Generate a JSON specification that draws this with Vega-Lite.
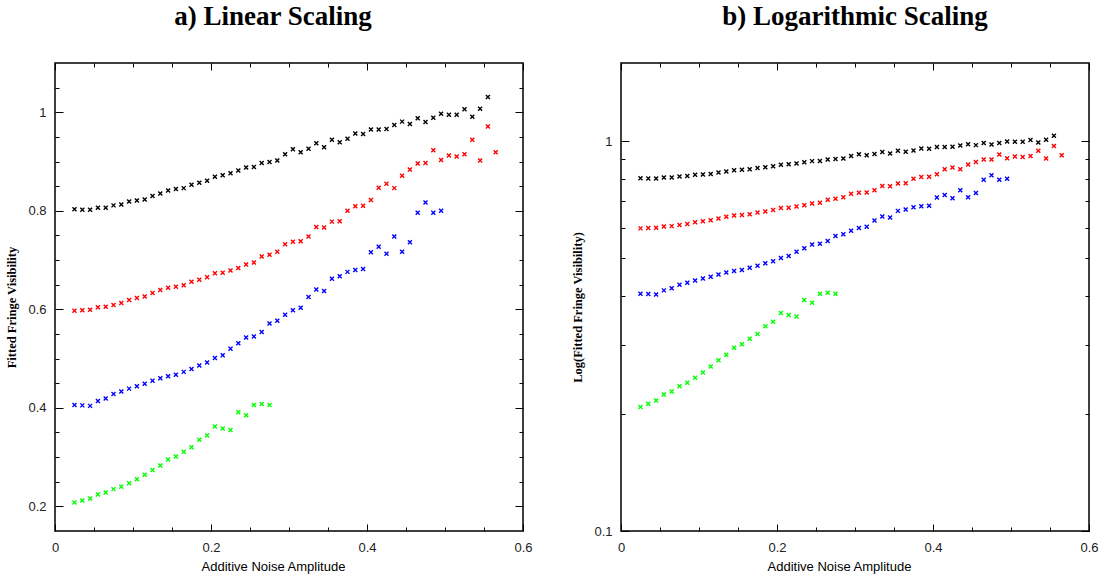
{
  "$schema": "https://vega.github.io/schema/vega-lite/v6.json",
  "autosize": {"type": "pad"},
  "padding": {"left": 5, "top": 1, "right": 0, "bottom": 0},
  "background": "white",
  "config": {
    "view": {"stroke": "black", "strokeWidth": 1.5},
    "axis": {
      "domain": false,
      "grid": false,
      "tickColor": "black",
      "tickWidth": 1,
      "labelFont": "Liberation Sans",
      "labelFontSize": 13,
      "labelColor": "#222222",
      "labelFlush": false,
      "labelOverlap": false,
      "titleColor": "black"
    },
    "concat": {"spacing": 98},
    "title": {"font": "Liberation Serif", "fontSize": 27, "fontWeight": "bold", "color": "black", "anchor": "middle", "baseline": "alphabetic", "offset": 32}
  },
  "bounds": "flush",
  "data": {
    "values": [
      {"series": "set1", "amplitude": 0.025, "visibility": 0.803},
      {"series": "set1", "amplitude": 0.035, "visibility": 0.802},
      {"series": "set1", "amplitude": 0.045, "visibility": 0.802},
      {"series": "set1", "amplitude": 0.055, "visibility": 0.806},
      {"series": "set1", "amplitude": 0.065, "visibility": 0.806},
      {"series": "set1", "amplitude": 0.075, "visibility": 0.811},
      {"series": "set1", "amplitude": 0.085, "visibility": 0.813},
      {"series": "set1", "amplitude": 0.095, "visibility": 0.819},
      {"series": "set1", "amplitude": 0.105, "visibility": 0.821},
      {"series": "set1", "amplitude": 0.115, "visibility": 0.823},
      {"series": "set1", "amplitude": 0.125, "visibility": 0.830},
      {"series": "set1", "amplitude": 0.135, "visibility": 0.835},
      {"series": "set1", "amplitude": 0.145, "visibility": 0.841},
      {"series": "set1", "amplitude": 0.155, "visibility": 0.844},
      {"series": "set1", "amplitude": 0.165, "visibility": 0.846},
      {"series": "set1", "amplitude": 0.175, "visibility": 0.853},
      {"series": "set1", "amplitude": 0.185, "visibility": 0.857},
      {"series": "set1", "amplitude": 0.195, "visibility": 0.861},
      {"series": "set1", "amplitude": 0.205, "visibility": 0.869},
      {"series": "set1", "amplitude": 0.215, "visibility": 0.872},
      {"series": "set1", "amplitude": 0.225, "visibility": 0.876},
      {"series": "set1", "amplitude": 0.235, "visibility": 0.882},
      {"series": "set1", "amplitude": 0.245, "visibility": 0.888},
      {"series": "set1", "amplitude": 0.255, "visibility": 0.889},
      {"series": "set1", "amplitude": 0.265, "visibility": 0.897},
      {"series": "set1", "amplitude": 0.275, "visibility": 0.899},
      {"series": "set1", "amplitude": 0.285, "visibility": 0.902},
      {"series": "set1", "amplitude": 0.295, "visibility": 0.915},
      {"series": "set1", "amplitude": 0.305, "visibility": 0.925},
      {"series": "set1", "amplitude": 0.315, "visibility": 0.919},
      {"series": "set1", "amplitude": 0.325, "visibility": 0.926},
      {"series": "set1", "amplitude": 0.335, "visibility": 0.937},
      {"series": "set1", "amplitude": 0.345, "visibility": 0.929},
      {"series": "set1", "amplitude": 0.355, "visibility": 0.944},
      {"series": "set1", "amplitude": 0.365, "visibility": 0.939},
      {"series": "set1", "amplitude": 0.375, "visibility": 0.946},
      {"series": "set1", "amplitude": 0.385, "visibility": 0.957},
      {"series": "set1", "amplitude": 0.395, "visibility": 0.956},
      {"series": "set1", "amplitude": 0.405, "visibility": 0.965},
      {"series": "set1", "amplitude": 0.415, "visibility": 0.965},
      {"series": "set1", "amplitude": 0.425, "visibility": 0.966},
      {"series": "set1", "amplitude": 0.435, "visibility": 0.974},
      {"series": "set1", "amplitude": 0.445, "visibility": 0.981},
      {"series": "set1", "amplitude": 0.455, "visibility": 0.976},
      {"series": "set1", "amplitude": 0.465, "visibility": 0.988},
      {"series": "set1", "amplitude": 0.475, "visibility": 0.980},
      {"series": "set1", "amplitude": 0.485, "visibility": 0.989},
      {"series": "set1", "amplitude": 0.495, "visibility": 0.997},
      {"series": "set1", "amplitude": 0.505, "visibility": 0.995},
      {"series": "set1", "amplitude": 0.515, "visibility": 0.995},
      {"series": "set1", "amplitude": 0.525, "visibility": 1.006},
      {"series": "set1", "amplitude": 0.535, "visibility": 0.991},
      {"series": "set1", "amplitude": 0.545, "visibility": 1.007},
      {"series": "set1", "amplitude": 0.555, "visibility": 1.031},

      {"series": "set2", "amplitude": 0.025, "visibility": 0.597},
      {"series": "set2", "amplitude": 0.035, "visibility": 0.598},
      {"series": "set2", "amplitude": 0.045, "visibility": 0.599},
      {"series": "set2", "amplitude": 0.055, "visibility": 0.604},
      {"series": "set2", "amplitude": 0.065, "visibility": 0.605},
      {"series": "set2", "amplitude": 0.075, "visibility": 0.609},
      {"series": "set2", "amplitude": 0.085, "visibility": 0.613},
      {"series": "set2", "amplitude": 0.095, "visibility": 0.619},
      {"series": "set2", "amplitude": 0.105, "visibility": 0.623},
      {"series": "set2", "amplitude": 0.115, "visibility": 0.626},
      {"series": "set2", "amplitude": 0.125, "visibility": 0.633},
      {"series": "set2", "amplitude": 0.135, "visibility": 0.639},
      {"series": "set2", "amplitude": 0.145, "visibility": 0.644},
      {"series": "set2", "amplitude": 0.155, "visibility": 0.646},
      {"series": "set2", "amplitude": 0.165, "visibility": 0.649},
      {"series": "set2", "amplitude": 0.175, "visibility": 0.656},
      {"series": "set2", "amplitude": 0.185, "visibility": 0.660},
      {"series": "set2", "amplitude": 0.195, "visibility": 0.665},
      {"series": "set2", "amplitude": 0.205, "visibility": 0.673},
      {"series": "set2", "amplitude": 0.215, "visibility": 0.674},
      {"series": "set2", "amplitude": 0.225, "visibility": 0.679},
      {"series": "set2", "amplitude": 0.235, "visibility": 0.684},
      {"series": "set2", "amplitude": 0.245, "visibility": 0.691},
      {"series": "set2", "amplitude": 0.255, "visibility": 0.695},
      {"series": "set2", "amplitude": 0.265, "visibility": 0.707},
      {"series": "set2", "amplitude": 0.275, "visibility": 0.711},
      {"series": "set2", "amplitude": 0.285, "visibility": 0.717},
      {"series": "set2", "amplitude": 0.295, "visibility": 0.732},
      {"series": "set2", "amplitude": 0.305, "visibility": 0.737},
      {"series": "set2", "amplitude": 0.315, "visibility": 0.738},
      {"series": "set2", "amplitude": 0.325, "visibility": 0.748},
      {"series": "set2", "amplitude": 0.335, "visibility": 0.767},
      {"series": "set2", "amplitude": 0.345, "visibility": 0.766},
      {"series": "set2", "amplitude": 0.355, "visibility": 0.778},
      {"series": "set2", "amplitude": 0.365, "visibility": 0.779},
      {"series": "set2", "amplitude": 0.375, "visibility": 0.800},
      {"series": "set2", "amplitude": 0.385, "visibility": 0.809},
      {"series": "set2", "amplitude": 0.395, "visibility": 0.810},
      {"series": "set2", "amplitude": 0.405, "visibility": 0.822},
      {"series": "set2", "amplitude": 0.415, "visibility": 0.847},
      {"series": "set2", "amplitude": 0.425, "visibility": 0.855},
      {"series": "set2", "amplitude": 0.435, "visibility": 0.846},
      {"series": "set2", "amplitude": 0.445, "visibility": 0.871},
      {"series": "set2", "amplitude": 0.455, "visibility": 0.884},
      {"series": "set2", "amplitude": 0.465, "visibility": 0.896},
      {"series": "set2", "amplitude": 0.475, "visibility": 0.897},
      {"series": "set2", "amplitude": 0.485, "visibility": 0.923},
      {"series": "set2", "amplitude": 0.495, "visibility": 0.903},
      {"series": "set2", "amplitude": 0.505, "visibility": 0.912},
      {"series": "set2", "amplitude": 0.515, "visibility": 0.910},
      {"series": "set2", "amplitude": 0.525, "visibility": 0.915},
      {"series": "set2", "amplitude": 0.535, "visibility": 0.944},
      {"series": "set2", "amplitude": 0.545, "visibility": 0.902},
      {"series": "set2", "amplitude": 0.555, "visibility": 0.971},
      {"series": "set2", "amplitude": 0.565, "visibility": 0.919},

      {"series": "set3", "amplitude": 0.025, "visibility": 0.406},
      {"series": "set3", "amplitude": 0.035, "visibility": 0.405},
      {"series": "set3", "amplitude": 0.045, "visibility": 0.404},
      {"series": "set3", "amplitude": 0.055, "visibility": 0.414},
      {"series": "set3", "amplitude": 0.065, "visibility": 0.419},
      {"series": "set3", "amplitude": 0.075, "visibility": 0.428},
      {"series": "set3", "amplitude": 0.085, "visibility": 0.433},
      {"series": "set3", "amplitude": 0.095, "visibility": 0.439},
      {"series": "set3", "amplitude": 0.105, "visibility": 0.444},
      {"series": "set3", "amplitude": 0.115, "visibility": 0.449},
      {"series": "set3", "amplitude": 0.125, "visibility": 0.455},
      {"series": "set3", "amplitude": 0.135, "visibility": 0.460},
      {"series": "set3", "amplitude": 0.145, "visibility": 0.464},
      {"series": "set3", "amplitude": 0.155, "visibility": 0.467},
      {"series": "set3", "amplitude": 0.165, "visibility": 0.473},
      {"series": "set3", "amplitude": 0.175, "visibility": 0.479},
      {"series": "set3", "amplitude": 0.185, "visibility": 0.486},
      {"series": "set3", "amplitude": 0.195, "visibility": 0.492},
      {"series": "set3", "amplitude": 0.205, "visibility": 0.501},
      {"series": "set3", "amplitude": 0.215, "visibility": 0.507},
      {"series": "set3", "amplitude": 0.225, "visibility": 0.520},
      {"series": "set3", "amplitude": 0.235, "visibility": 0.531},
      {"series": "set3", "amplitude": 0.245, "visibility": 0.543},
      {"series": "set3", "amplitude": 0.255, "visibility": 0.545},
      {"series": "set3", "amplitude": 0.265, "visibility": 0.554},
      {"series": "set3", "amplitude": 0.275, "visibility": 0.571},
      {"series": "set3", "amplitude": 0.285, "visibility": 0.577},
      {"series": "set3", "amplitude": 0.295, "visibility": 0.589},
      {"series": "set3", "amplitude": 0.305, "visibility": 0.598},
      {"series": "set3", "amplitude": 0.315, "visibility": 0.603},
      {"series": "set3", "amplitude": 0.325, "visibility": 0.625},
      {"series": "set3", "amplitude": 0.335, "visibility": 0.640},
      {"series": "set3", "amplitude": 0.345, "visibility": 0.637},
      {"series": "set3", "amplitude": 0.355, "visibility": 0.662},
      {"series": "set3", "amplitude": 0.365, "visibility": 0.667},
      {"series": "set3", "amplitude": 0.375, "visibility": 0.676},
      {"series": "set3", "amplitude": 0.385, "visibility": 0.680},
      {"series": "set3", "amplitude": 0.395, "visibility": 0.682},
      {"series": "set3", "amplitude": 0.405, "visibility": 0.716},
      {"series": "set3", "amplitude": 0.415, "visibility": 0.727},
      {"series": "set3", "amplitude": 0.425, "visibility": 0.713},
      {"series": "set3", "amplitude": 0.435, "visibility": 0.748},
      {"series": "set3", "amplitude": 0.445, "visibility": 0.717},
      {"series": "set3", "amplitude": 0.455, "visibility": 0.736},
      {"series": "set3", "amplitude": 0.465, "visibility": 0.796},
      {"series": "set3", "amplitude": 0.475, "visibility": 0.817},
      {"series": "set3", "amplitude": 0.485, "visibility": 0.796},
      {"series": "set3", "amplitude": 0.495, "visibility": 0.800},

      {"series": "set4", "amplitude": 0.025, "visibility": 0.208},
      {"series": "set4", "amplitude": 0.035, "visibility": 0.212},
      {"series": "set4", "amplitude": 0.045, "visibility": 0.216},
      {"series": "set4", "amplitude": 0.055, "visibility": 0.224},
      {"series": "set4", "amplitude": 0.065, "visibility": 0.228},
      {"series": "set4", "amplitude": 0.075, "visibility": 0.235},
      {"series": "set4", "amplitude": 0.085, "visibility": 0.240},
      {"series": "set4", "amplitude": 0.095, "visibility": 0.247},
      {"series": "set4", "amplitude": 0.105, "visibility": 0.255},
      {"series": "set4", "amplitude": 0.115, "visibility": 0.264},
      {"series": "set4", "amplitude": 0.125, "visibility": 0.274},
      {"series": "set4", "amplitude": 0.135, "visibility": 0.283},
      {"series": "set4", "amplitude": 0.145, "visibility": 0.295},
      {"series": "set4", "amplitude": 0.155, "visibility": 0.301},
      {"series": "set4", "amplitude": 0.165, "visibility": 0.311},
      {"series": "set4", "amplitude": 0.175, "visibility": 0.320},
      {"series": "set4", "amplitude": 0.185, "visibility": 0.335},
      {"series": "set4", "amplitude": 0.195, "visibility": 0.344},
      {"series": "set4", "amplitude": 0.205, "visibility": 0.362},
      {"series": "set4", "amplitude": 0.215, "visibility": 0.358},
      {"series": "set4", "amplitude": 0.225, "visibility": 0.355},
      {"series": "set4", "amplitude": 0.235, "visibility": 0.391},
      {"series": "set4", "amplitude": 0.245, "visibility": 0.385},
      {"series": "set4", "amplitude": 0.255, "visibility": 0.406},
      {"series": "set4", "amplitude": 0.265, "visibility": 0.408},
      {"series": "set4", "amplitude": 0.275, "visibility": 0.406}
    ]
  },
  "hconcat": [
    {
      "width": 468,
      "height": 468,
      "title": {"text": "a) Linear Scaling", "dx": -16},
      "layer": [
        {
          "mark": {"type": "point", "shape": "M-1,-1L1,1M-1,1L1,-1", "filled": false, "size": 16, "strokeWidth": 1.4, "opacity": 1},
          "encoding": {
            "x": {
              "field": "amplitude", "type": "quantitative",
              "scale": {"domain": [0, 0.6], "nice": false, "zero": false},
              "axis": {
                "orient": "bottom",
                "values": [0, 0.05, 0.1, 0.15, 0.2, 0.25, 0.3, 0.35, 0.4, 0.45, 0.5, 0.55, 0.6],
                "tickSize": {"condition": {"test": "abs(datum.value*5-round(datum.value*5))<1e-6", "value": -7}, "value": -4},
                "labelExpr": "abs(datum.value*5-round(datum.value*5))<1e-6 ? format(datum.value, '~g') : ''",
                "labelPadding": 17,
                "title": "Additive Noise Amplitude",
                "titleFont": "Liberation Sans", "titleFontSize": 13, "titleFontWeight": "normal", "titlePadding": 3,
                "titleX": 218
              }
            },
            "y": {
              "field": "visibility", "type": "quantitative",
              "scale": {"domain": [0.15, 1.1], "nice": false, "zero": false},
              "axis": {
                "orient": "left",
                "values": [0.2, 0.25, 0.3, 0.35, 0.4, 0.45, 0.5, 0.55, 0.6, 0.65, 0.7, 0.75, 0.8, 0.85, 0.9, 0.95, 1, 1.05],
                "tickSize": {"condition": {"test": "abs(datum.value*5-round(datum.value*5))<1e-6", "value": -8}, "value": -4},
                "labelExpr": "abs(datum.value*5-round(datum.value*5))<1e-6 ? format(datum.value, '~g') : ''",
                "labelPadding": 17,
                "title": "Fitted Fringe Visibility",
                "titleFont": "Liberation Serif", "titleFontSize": 12.5, "titleFontWeight": "bold", "titlePadding": 9,
                "titleY": 244
              }
            },
            "color": {
              "field": "series", "type": "nominal",
              "scale": {"domain": ["set1", "set2", "set3", "set4"], "range": ["#000000", "#ff0000", "#0000ff", "#00ff00"]},
              "legend": null
            }
          }
        },
        {
          "mark": {"type": "point", "opacity": 0},
          "encoding": {
            "x": {
              "field": "amplitude", "type": "quantitative",
              "axis": {
                "orient": "top",
                "values": [0, 0.05, 0.1, 0.15, 0.2, 0.25, 0.3, 0.35, 0.4, 0.45, 0.5, 0.55, 0.6],
                "tickSize": {"condition": {"test": "abs(datum.value*5-round(datum.value*5))<1e-6", "value": -7}, "value": -4},
                "labels": false,
                "title": null
              }
            },
            "y": {
              "field": "visibility", "type": "quantitative",
              "axis": {
                "orient": "right",
                "values": [0.2, 0.25, 0.3, 0.35, 0.4, 0.45, 0.5, 0.55, 0.6, 0.65, 0.7, 0.75, 0.8, 0.85, 0.9, 0.95, 1, 1.05],
                "tickSize": {"condition": {"test": "abs(datum.value*5-round(datum.value*5))<1e-6", "value": -8}, "value": -4},
                "labels": false,
                "title": null
              }
            }
          }
        }
      ],
      "resolve": {"axis": {"x": "independent", "y": "independent"}}
    },
    {
      "width": 468,
      "height": 468,
      "title": {"text": "b) Logarithmic Scaling"},
      "layer": [
        {
          "mark": {"type": "point", "shape": "M-1,-1L1,1M-1,1L1,-1", "filled": false, "size": 16, "strokeWidth": 1.4, "opacity": 1},
          "encoding": {
            "x": {
              "field": "amplitude", "type": "quantitative",
              "scale": {"domain": [0, 0.6], "nice": false, "zero": false},
              "axis": {
                "orient": "bottom",
                "values": [0, 0.05, 0.1, 0.15, 0.2, 0.25, 0.3, 0.35, 0.4, 0.45, 0.5, 0.55, 0.6],
                "tickSize": {"condition": {"test": "abs(datum.value*5-round(datum.value*5))<1e-6", "value": -7}, "value": -4},
                "labelExpr": "abs(datum.value*5-round(datum.value*5))<1e-6 ? format(datum.value, '~g') : ''",
                "labelPadding": 17,
                "title": "Additive Noise Amplitude",
                "titleFont": "Liberation Sans", "titleFontSize": 13, "titleFontWeight": "normal", "titlePadding": 3,
                "titleX": 218
              }
            },
            "y": {
              "field": "visibility", "type": "quantitative",
              "scale": {"type": "log", "domain": [0.1, 1.585], "nice": false, "zero": false},
              "axis": {
                "orient": "left",
                "values": [0.1, 0.2, 0.3, 0.4, 0.5, 0.6, 0.7, 0.8, 0.9, 1],
                "tickSize": {"condition": {"test": "datum.value == 1 || datum.value == 0.1", "value": -8}, "value": -4},
                "labelExpr": "datum.value == 1 || datum.value == 0.1 ? format(datum.value, '~g') : ''",
                "labelPadding": 17,
                "title": "Log(Fitted Fringe Visibility)",
                "titleFont": "Liberation Serif", "titleFontSize": 12.5, "titleFontWeight": "bold", "titlePadding": 9,
                "titleY": 244
              }
            },
            "color": {
              "field": "series", "type": "nominal",
              "scale": {"domain": ["set1", "set2", "set3", "set4"], "range": ["#000000", "#ff0000", "#0000ff", "#00ff00"]},
              "legend": null
            }
          }
        },
        {
          "mark": {"type": "point", "opacity": 0},
          "encoding": {
            "x": {
              "field": "amplitude", "type": "quantitative",
              "axis": {
                "orient": "top",
                "values": [0, 0.05, 0.1, 0.15, 0.2, 0.25, 0.3, 0.35, 0.4, 0.45, 0.5, 0.55, 0.6],
                "tickSize": {"condition": {"test": "abs(datum.value*5-round(datum.value*5))<1e-6", "value": -7}, "value": -4},
                "labels": false,
                "title": null
              }
            },
            "y": {
              "field": "visibility", "type": "quantitative",
              "axis": {
                "orient": "right",
                "values": [0.1, 0.2, 0.3, 0.4, 0.5, 0.6, 0.7, 0.8, 0.9, 1],
                "tickSize": {"condition": {"test": "datum.value == 1 || datum.value == 0.1", "value": -8}, "value": -4},
                "labels": false,
                "title": null
              }
            }
          }
        }
      ],
      "resolve": {"axis": {"x": "independent", "y": "independent"}}
    }
  ]
}
